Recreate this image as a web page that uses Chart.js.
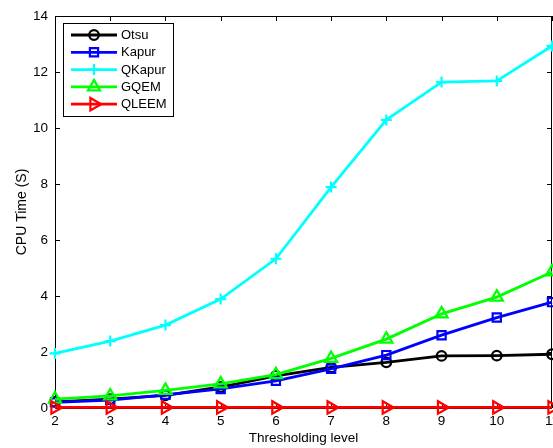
<!DOCTYPE html>
<html>
<head>
<meta charset="utf-8">
<script src="https://cdn.jsdelivr.net/npm/chart.js@4.4.1/dist/chart.umd.min.js"></script>
<style>
  html, body { margin: 0; padding: 0; background: #fff; overflow: hidden; }
</style>
</head>
<body>
<canvas id="cpu" width="553" height="448"></canvas>
<script>
const levels = [2, 3, 4, 5, 6, 7, 8, 9, 10, 11];
const yTicks = [0, 2, 4, 6, 8, 10, 12, 14];

const otsu   = [0.22, 0.32, 0.45, 0.75, 1.15, 1.45, 1.63, 1.86, 1.87, 1.92];
const kapur  = [0.20, 0.28, 0.47, 0.68, 0.97, 1.40, 1.89, 2.60, 3.23, 3.78];
const qkapur = [1.95, 2.39, 2.96, 3.89, 5.33, 7.89, 10.29, 11.64, 11.68, 12.93];
const gqem   = [0.32, 0.43, 0.63, 0.86, 1.19, 1.77, 2.46, 3.36, 3.96, 4.86];
const qleem  = [0.02, 0.02, 0.02, 0.02, 0.02, 0.02, 0.02, 0.02, 0.02, 0.02];

const FONT = 'Liberation Sans, Arial, Helvetica, sans-serif';

function series(label, values, color, style, radius, order, rotation) {
  return {
    label,
    data: levels.map((x, i) => ({ x, y: values[i] })),
    borderColor: color,
    backgroundColor: color,
    borderWidth: 2.8,
    pointStyle: style,
    pointRadius: radius,
    pointRotation: rotation || 0,
    pointBorderColor: color,
    pointBackgroundColor: 'rgba(255,255,255,0)',
    pointBorderWidth: 2.2,
    pointHoverRadius: radius,
    tension: 0,
    clip: false,
    order
  };
}

// matlab-ish box with inward ticks, plus line+marker legend
const matlabAxes = {
  id: 'matlabAxes',
  beforeDatasetsDraw(chart) {
    const { ctx, chartArea: a, scales } = chart;
    ctx.save();
    ctx.strokeStyle = '#000';
    ctx.lineWidth = 1;
    ctx.strokeRect(a.left + 0.5, a.top + 0.5, a.right - a.left - 1, a.bottom - a.top);
    ctx.beginPath();
    levels.forEach(v => {
      const x = Math.round(scales.x.getPixelForValue(v)) + 0.5;
      ctx.moveTo(x, a.bottom); ctx.lineTo(x, a.bottom - 5);
      ctx.moveTo(x, a.top); ctx.lineTo(x, a.top + 5);
    });
    yTicks.forEach(v => {
      const y = Math.round(scales.y.getPixelForValue(v)) + 0.5;
      ctx.moveTo(a.left, y); ctx.lineTo(a.left + 5, y);
      ctx.moveTo(a.right, y); ctx.lineTo(a.right - 5, y);
    });
    ctx.stroke();
    ctx.restore();
  },
  afterDraw(chart) {
    const { ctx } = chart;
    const box = { x: 63.5, y: 23.5, w: 110, h: 93 };
    ctx.save();
    ctx.fillStyle = '#fff';
    ctx.fillRect(box.x, box.y, box.w, box.h);
    ctx.strokeStyle = '#000';
    ctx.lineWidth = 1;
    ctx.strokeRect(box.x, box.y, box.w, box.h);
    ctx.font = '13px ' + FONT;
    ctx.textBaseline = 'middle';
    chart.data.datasets.forEach((ds, i) => {
      const y = 35 + i * 17.3;
      ctx.strokeStyle = ds.borderColor;
      ctx.lineWidth = ds.borderWidth;
      ctx.beginPath();
      ctx.moveTo(71, y); ctx.lineTo(117, y);
      ctx.stroke();
      ctx.fillStyle = ds.pointBackgroundColor;
      ctx.lineWidth = ds.pointBorderWidth;
      Chart.helpers.drawPoint(ctx, {
        pointStyle: ds.pointStyle,
        radius: ds.pointRadius,
        rotation: ds.pointRotation,
        borderWidth: ds.pointBorderWidth
      }, 94, y);
      ctx.fillStyle = '#000';
      ctx.fillText(ds.label, 121, y + 0.5);
    });
    ctx.restore();
  }
};

new Chart(document.getElementById('cpu'), {
  type: 'line',
  data: {
    datasets: [
      series('Otsu', otsu, '#000000', 'circle', 4.8, 5),
      series('Kapur', kapur, '#0000ff', 'rect', 5.8, 4),
      series('QKapur', qkapur, '#00ffff', 'cross', 5.5, 3),
      series('GQEM', gqem, '#00ff00', 'triangle', 7, 2),
      series('QLEEM', qleem, '#ff0000', 'triangle', 7.2, 1, 90)
    ]
  },
  options: {
    responsive: false,
    animation: false,
    layout: { autoPadding: false, padding: { top: 16, right: 1, left: 0, bottom: 0 } },
    plugins: {
      legend: { display: false },
      tooltip: { enabled: false }
    },
    scales: {
      x: {
        type: 'linear',
        min: 2,
        max: 11,
        afterBuildTicks: s => { s.ticks = levels.map(v => ({ value: v })); },
        ticks: { color: '#000', font: { family: FONT, size: 13.5 }, padding: 5, autoSkip: false, maxRotation: 0 },
        grid: { display: false, drawTicks: false },
        border: { display: false },
        title: {
          display: true,
          text: 'Thresholding level',
          color: '#000',
          font: { family: FONT, size: 13.5 },
          padding: { top: 0, bottom: 2 }
        },
        afterFit: s => { s.height = 40; s.paddingLeft = 0; s.paddingRight = 0; }
      },
      y: {
        min: 0,
        max: 14,
        afterBuildTicks: s => { s.ticks = yTicks.map(v => ({ value: v })); },
        ticks: { color: '#000', font: { family: FONT, size: 13.5 }, padding: 7 },
        grid: { display: false, drawTicks: false },
        border: { display: false },
        title: {
          display: true,
          text: 'CPU Time (S)',
          color: '#000',
          font: { family: FONT, size: 14 },
          padding: { top: 13.5, bottom: 0 }
        },
        afterFit: s => { s.width = 55; s.paddingTop = 0; s.paddingBottom = 0; }
      }
    }
  },
  plugins: [matlabAxes]
});
</script>
</body>
</html>
